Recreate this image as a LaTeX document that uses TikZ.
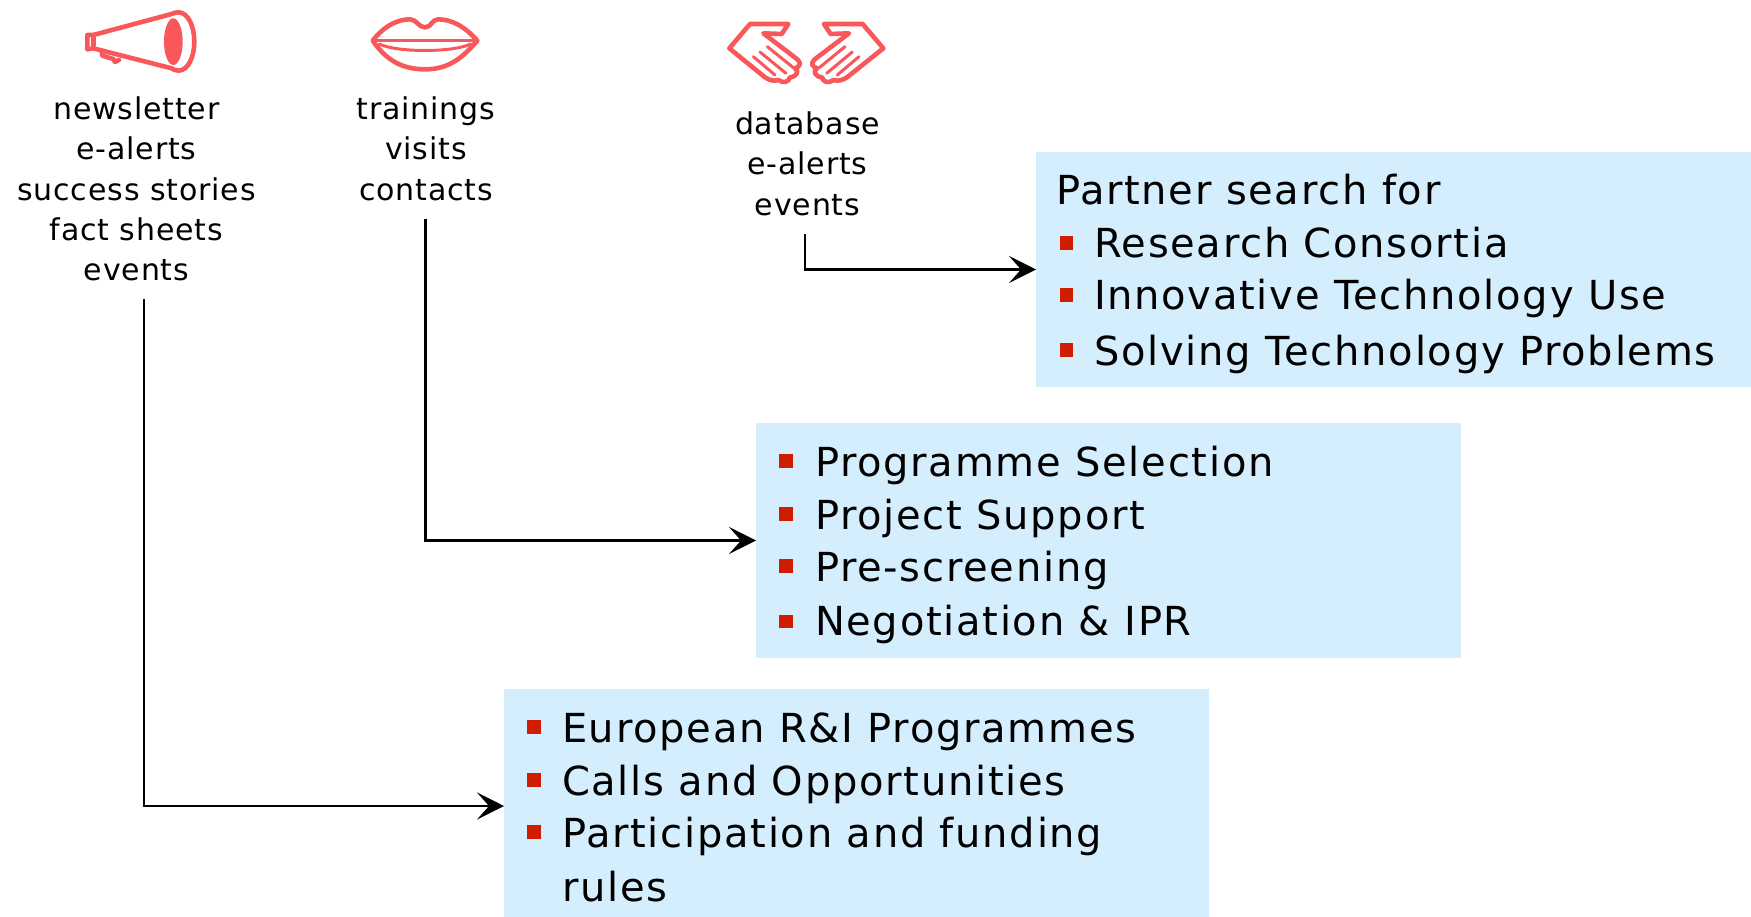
\documentclass[tikz,border=0pt]{standalone}
\usepackage{fontspec}
\setmainfont{DejaVu Sans}
\newfontfamily\bigfont[LetterSpace=4.3]{DejaVu Sans}
\newfontfamily\smallfont[LetterSpace=2.8]{DejaVu Sans}
\usetikzlibrary{arrows.meta}
\definecolor{boxblue}{HTML}{D4EEFD}
\definecolor{bulletred}{HTML}{D01C00}
\definecolor{iconred}{HTML}{F9575A}
\tikzset{
  x=1pt,y=-1pt,
  bluebox/.style={fill=boxblue,draw=none,inner sep=0pt,outer sep=0pt,anchor=north west},
  boxline/.style={anchor=base west,inner sep=0pt,outer sep=0pt,font=\bigfont\fontsize{40}{47}\selectfont},
  srclabel/.style={anchor=north,inner sep=0pt,outer sep=0pt,align=center,font=\smallfont\fontsize{30}{40.2}\selectfont},
  bulletmark/.style={fill=bulletred,draw=none,minimum size=13.5pt,inner sep=0pt,outer sep=0pt},
  link/.style={draw=black,line width=2.1pt,-{Stealth[length=27pt,width=27pt,inset=12pt]}},
  iconline/.style={draw=iconred,line width=4.6pt,line join=round,line cap=round},
  iconthin/.style={draw=iconred,line width=3pt,line cap=round},
}
\begin{document}
\begin{tikzpicture}
\useasboundingbox (0,0) rectangle (1751,917);
% boxes
\node[bluebox,minimum width=715pt,minimum height=235pt] (b1) at (1036,152) {};
\node[bluebox,minimum width=705pt,minimum height=235pt] (b2) at (756,423) {};
\node[bluebox,minimum width=705pt,minimum height=228pt] (b3) at (504,689) {};
% box 1
\node[boxline] (l10) at (1056,205) {Partner search for};
\node[boxline] (l11) at (1094,258) {Research Consortia};
\node[boxline] (l12) at (1094,310) {Innovative Technology Use};
\node[boxline] (l13) at (1094,365) {Solving Technology Problems};
\node[bulletmark] (m11) at (1066.5,243) {};
\node[bulletmark] (m12) at (1066.5,295) {};
\node[bulletmark] (m13) at (1066.5,350) {};
% box 2
\node[boxline] (l21) at (815,476) {Programme Selection};
\node[boxline] (l22) at (815,529) {Project Support};
\node[boxline] (l23) at (815,581) {Pre-screening};
\node[boxline] (l24) at (815,635) {Negotiation \& IPR};
\node[bulletmark] (m21) at (786,461) {};
\node[bulletmark] (m22) at (786,514) {};
\node[bulletmark] (m23) at (786,566) {};
\node[bulletmark] (m24) at (786,621.5) {};
% box 3
\node[boxline] (l31) at (562,742) {European R\&I Programmes};
\node[boxline] (l32) at (562,795) {Calls and Opportunities};
\node[boxline] (l33) at (562,847) {Participation and funding};
\node[boxline] (l34) at (562,901) {rules};
\node[bulletmark] (m31) at (534,727) {};
\node[bulletmark] (m32) at (534,780) {};
\node[bulletmark] (m33) at (534,832) {};
% source labels
\node[srclabel] (s1) at (136.5,97) {newsletter\\e-alerts\\success stories\\fact sheets\\events};
\node[srclabel] (s2) at (426,97) {trainings\\visits\\contacts};
\node[srclabel] (s3) at (807.5,112) {database\\e-alerts\\events};
% connectors
\coordinate (c1) at (144,299);
\coordinate (c2) at (425.5,219);
\coordinate (c3) at (805,234);
\coordinate (e1) at (504,806);
\draw[link] (c1) |- (e1);
\draw[link] (c2) |- (b2.west);
\draw[link] (c3) |- (b1.west);
% megaphone
\begin{scope}[shift={(60,0)},x=0.3333pt,y=-0.3333pt]
\fill[iconred] (340,125) ellipse [x radius=28pt/3*1,y radius=70pt/3*1];
\draw[iconline] (355,37) .. controls (385,37) and (403,80) .. (403,125) .. controls (403,170) and (385,212) .. (355,212) .. controls (345,212) and (340,208) .. (335,205) -- (100,145) -- (82,148) -- (82,105) -- (100,105) -- (335,42) .. controls (340,40) and (345,37) .. (355,37) -- cycle;
\draw[iconline] (100,105) -- (100,145);
\draw[iconline] (125,155) -- (127,167) -- (160,177) -- (165,186) -- (177,180);
\end{scope}
% lips
\begin{scope}[shift={(350,0)},x=0.3333pt,y=-0.3333pt]
\draw[iconline] (68,122) .. controls (105,75) and (145,58) .. (180,58) .. controls (200,58) and (205,82) .. (225,82) .. controls (245,82) and (245,58) .. (265,58) .. controls (305,58) and (345,80) .. (382,122) .. controls (340,170) and (300,208) .. (225,208) .. controls (150,208) and (105,175) .. (68,122) -- cycle;
\draw[iconthin] (68,122) -- (382,122);
\draw[iconthin] (88,132) .. controls (140,158) and (310,158) .. (362,132);
\end{scope}
% hands
\begin{scope}[shift={(710,0)},x=0.3333pt,y=-0.3333pt]
\draw[iconline] (58,145) -- (120,72) -- (235,72) -- (215,102) -- (160,100) -- (262,178) .. controls (275,190) and (270,200) .. (255,205) .. controls (268,212) and (262,230) .. (240,232) .. controls (238,245) and (220,252) .. (205,240) .. controls (190,245) and (178,240) .. (165,232) -- cycle;
\draw[iconthin] (172,140) -- (250,203);
\draw[iconthin] (150,156) -- (228,220);
\draw[iconthin] (130,170) -- (195,225);
\draw[iconline] (520,145) -- (458,72) -- (342,72) -- (362,102) -- (417,100) -- (314,178) .. controls (301,190) and (306,200) .. (321,205) .. controls (308,212) and (314,230) .. (336,232) .. controls (338,245) and (356,252) .. (371,240) .. controls (386,245) and (398,240) .. (411,232) -- cycle;
\draw[iconthin] (405,140) -- (328,203);
\draw[iconthin] (427,156) -- (350,220);
\draw[iconthin] (447,170) -- (382,225);
\end{scope}
\end{tikzpicture}
\end{document}
